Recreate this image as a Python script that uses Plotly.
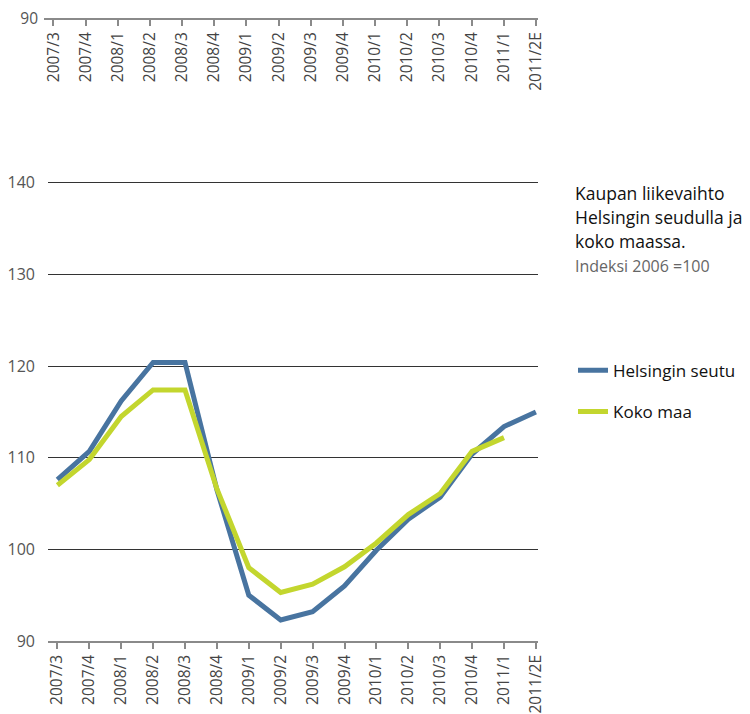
import plotly.graph_objects as go

quarters = ["2007/3", "2007/4", "2008/1", "2008/2", "2008/3", "2008/4",
            "2009/1", "2009/2", "2009/3", "2009/4", "2010/1", "2010/2",
            "2010/3", "2010/4", "2011/1", "2011/2E"]
helsinki = [107.6, 110.7, 116.2, 120.4, 120.4, 106.5, 95.0, 92.3, 93.2,
            96.0, 99.9, 103.3, 105.7, 110.4, 113.4, 115.0]
koko_maa = [107.0, 109.8, 114.5, 117.4, 117.4, 106.6, 98.0, 95.3, 96.2,
            98.1, 100.7, 103.8, 106.1, 110.7, 112.2, None]
y_ticks = [90, 100, 110, 120, 130, 140]

# the page places the figure 8px from the top-left corner (body margin)
OFF = 8
W, H = 750 - OFF, 714 - OFF
ML = 44 - OFF
MR = W - (538 - OFF)
MB = H - (641.5 - OFF)
MT = 10 - OFF
PW = W - ML - MR
PH = H - MT - MB


def px(x):
    return (x - OFF - ML) / PW


def py(y):
    return (H - MB - (y - OFF)) / PH


FONT = "Open Sans"
BLUE = "#4874a0"
GREEN = "#c3d62e"

fig = go.Figure()
fig.add_trace(go.Scatter(x=quarters, y=helsinki, name="Helsingin seutu",
                         mode="lines", line=dict(color=BLUE, width=5),
                         legendgroup="a"))
fig.add_trace(go.Scatter(x=quarters, y=koko_maa, name="Koko maa",
                         mode="lines", line=dict(color=GREEN, width=5),
                         legendgroup="b"))
# empty trace so the top (duplicate) axis has its categories
fig.add_trace(go.Scatter(x=quarters, y=[None] * len(quarters), xaxis="x2",
                         yaxis="y2", showlegend=False, hoverinfo="skip",
                         mode="lines"))

xr = [-0.295, 15.066]
common_x = dict(type="category", range=xr, showgrid=False, zeroline=False,
                showline=True, linecolor="#8a8a8a", linewidth=1.5,
                ticks="outside", ticklen=6, tickwidth=1.5, tickcolor="#8a8a8a",
                tickangle=-90, tickfont=dict(family=FONT, size=15.5, color="#444"))

ytop = 140.5
fig.update_layout(
    width=W, height=H,
    margin=dict(l=ML, r=MR, t=MT, b=MB, autoexpand=False),
    paper_bgcolor="white", plot_bgcolor="white",
    font=dict(family=FONT),
    xaxis=dict(anchor="y", domain=[px(48), 1], **common_x),
    xaxis2=dict(anchor="y2", domain=[0, 1], **common_x),
    yaxis=dict(domain=[0, py(183 - (ytop - 140) * 9.16)], range=[90, ytop],
               tickvals=y_ticks,
               showgrid=True, gridcolor="#333", gridwidth=1, zeroline=False,
               showline=False, ticks="", ticklabelstandoff=12,
               tickfont=dict(family=FONT, size=16, color="#555")),
    yaxis2=dict(domain=[py(18.3), 1], range=[90, 91], tickvals=[90],
                showgrid=False, zeroline=False, showline=False, ticks="",
                ticklabelstandoff=9, ticklabeloverflow="allow",
                tickfont=dict(family=FONT, size=15.5, color="#555")),
    legend=dict(x=px(573), y=py(353), xanchor="left", yanchor="top",
                traceorder="grouped", tracegroupgap=16, itemwidth=30,
                font=dict(family=FONT, size=17, color="#111"),
                bgcolor="rgba(0,0,0,0)"),
    showlegend=True,
)

title_lines = ["Kaupan liikevaihto", "Helsingin seudulla ja", "koko maassa."]
for i, t in enumerate(title_lines):
    fig.add_annotation(xref="paper", yref="paper", x=px(573), y=py(193 + 24 * i),
                       xanchor="left", yanchor="middle", showarrow=False,
                       text=t, font=dict(family=FONT, size=17.5, color="#111"))
fig.add_annotation(xref="paper", yref="paper", x=px(573), y=py(266),
                   xanchor="left", yanchor="middle", showarrow=False,
                   text="Indeksi 2006 =100",
                   font=dict(family=FONT, size=16, color="#666"))

fig.write_html("out.html")
